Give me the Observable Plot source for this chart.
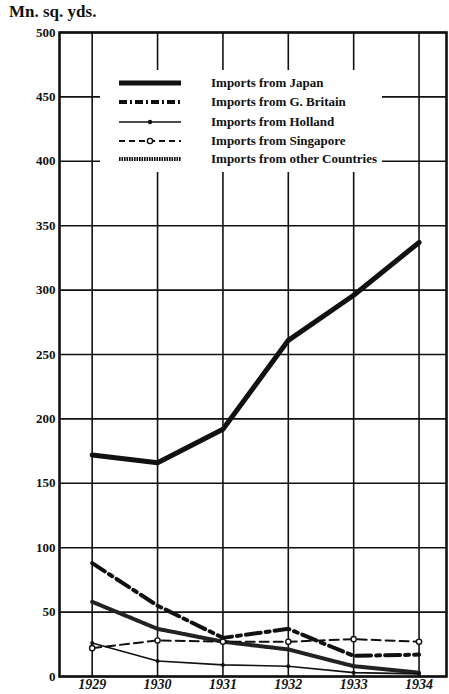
<!DOCTYPE html>
<html><head><meta charset="utf-8">
<script src="https://cdn.jsdelivr.net/npm/d3@7"></script>
<script src="https://cdn.jsdelivr.net/npm/@observablehq/plot@0.6"></script>
<style>
body{margin:0;background:#fff;}
#wrap{position:relative;width:449px;height:694px;}
#title{position:absolute;left:9px;top:2px;font:bold 17px "Liberation Serif","DejaVu Serif",serif;color:#111;}
#legend{position:absolute;left:100px;top:70px;width:282px;height:102px;background:#fff;}
#legend svg{display:block}
</style></head>
<body><div id="wrap"><div id="title">Mn. sq. yds.</div></div>
<script>
const years = [1929, 1930, 1931, 1932, 1933, 1934];
const japan = [172, 166, 192, 261, 296, 337];
const britain = [88, 55, 30, 37, 16, 17];
const holland = [26, 12, 9, 8, 3, 2];
const singapore = [22, 28, 27, 27, 29, 27];
const other = [58, 37, 27, 21, 8, 3];
const yTicks = [0, 50, 100, 150, 200, 250, 300, 350, 400, 450, 500];
const seriesNames = ["Imports from Japan","Imports from G. Britain","Imports from Holland","Imports from Singapore","Imports from other Countries"];

const rows = (vals) => years.map((y, i) => ({year: y, value: vals[i]}));
const font = '"Liberation Serif","DejaVu Serif",serif';

const chart = Plot.plot({
  width: 449, height: 694,
  marginLeft: 59, marginRight: 3, marginTop: 32, marginBottom: 18,
  style: {fontFamily: font, fontSize: "13px", fontWeight: "bold", color: "#111", background: "#fff"},
  x: {domain: [1928.5, 1934.42], ticks: years, tickFormat: d => String(d)},
  y: {domain: [0, 500], ticks: yTicks},
  marks: [
    Plot.gridX(years, {stroke: "#111", strokeOpacity: 1, strokeWidth: 1.6}),
    Plot.gridY(yTicks, {stroke: "#111", strokeOpacity: 1, strokeWidth: 1.6}),
    Plot.axisY({ticks: yTicks, tickSize: 0, tickPadding: 4, label: null, fontSize: 13, fontWeight: "bold"}),
    Plot.axisX({ticks: yTicks.length ? years : years, tickSize: 0, tickPadding: 3, label: null, tickFormat: d => String(d), fontSize: 14, fontStyle: "italic", fontWeight: "bold"}),
    Plot.line(rows(japan), {x: "year", y: "value", stroke: "#111", strokeWidth: 5}),
    Plot.line(rows(other), {x: "year", y: "value", stroke: "#222", strokeWidth: 4, strokeDasharray: "1.6,0.9"}),
    Plot.line(rows(britain), {x: "year", y: "value", stroke: "#111", strokeWidth: 4, strokeDasharray: "15,5,4,5"}),
    Plot.line(rows(holland), {x: "year", y: "value", stroke: "#111", strokeWidth: 1.6}),
    Plot.dot(rows(holland), {x: "year", y: "value", r: 2, fill: "#111"}),
    Plot.line(rows(singapore), {x: "year", y: "value", stroke: "#111", strokeWidth: 2, strokeDasharray: "9,5"}),
    Plot.dot(rows(singapore), {x: "year", y: "value", r: 2.6, fill: "#fff", stroke: "#111", strokeWidth: 1.4}),
    Plot.frame({stroke: "#111", strokeWidth: 2.6})
  ]
});
const wrap = document.getElementById("wrap");
wrap.insertBefore(chart, wrap.firstChild);

// legend overlay
const leg = document.createElement("div");
leg.id = "legend";
const styles = [
  {w: 5, dash: null},
  {w: 4, dash: "8,3,2,3"},
  {w: 1.6, dash: null, dot: "fill"},
  {w: 2, dash: "6,4", dot: "open"},
  {w: 4, dash: "1.6,0.9"}
];
const rowY = [13, 32, 52, 71, 89];
let s = `<svg width="282" height="102" xmlns="http://www.w3.org/2000/svg">`;
seriesNames.forEach((name, i) => {
  const st = styles[i], y = rowY[i];
  s += `<line x1="19" x2="81" y1="${y}" y2="${y}" stroke="#111" stroke-width="${st.w}" ${st.dash ? `stroke-dasharray="${st.dash}"` : ""}/>`;
  if (st.dot === "fill") s += `<circle cx="50" cy="${y}" r="2.2" fill="#111"/>`;
  if (st.dot === "open") s += `<circle cx="50" cy="${y}" r="2.6" fill="#fff" stroke="#111" stroke-width="1.4"/>`;
  s += `<text x="111" y="${y + 4}" font-family='${font}' font-weight="bold" font-size="13" fill="#111">${name}</text>`;
});
s += `</svg>`;
leg.innerHTML = s;
wrap.appendChild(leg);
</script>
</body></html>
